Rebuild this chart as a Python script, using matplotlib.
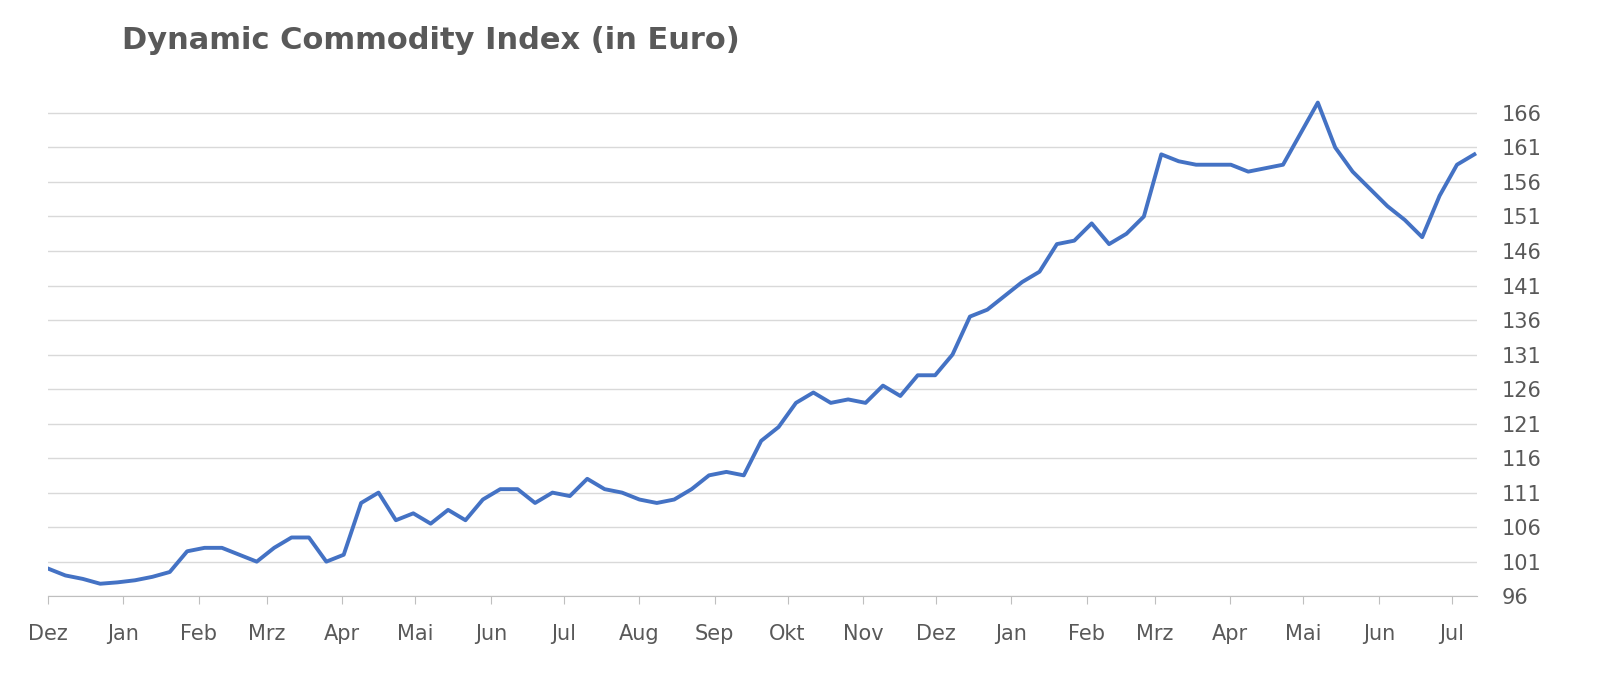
import numpy as np
import pandas as pd
import matplotlib.pyplot as plt

# weekly index values (Dec 2020 - mid Jul 2022)
index_values = [
    100, 99, 98.5, 97.8, 98, 98.3, 98.8, 99.5, 102.5, 103,
    103, 102, 101, 103, 104.5, 104.5, 101, 102, 109.5, 111,
    107, 108, 106.5, 108.5, 107, 110, 111.5, 111.5, 109.5, 111,
    110.5, 113, 111.5, 111, 110, 109.5, 110, 111.5, 113.5, 114,
    113.5, 118.5, 120.5, 124, 125.5, 124, 124.5, 124, 126.5, 125,
    128, 128, 131, 136.5, 137.5, 139.5, 141.5, 143, 147, 147.5,
    150, 147, 148.5, 151, 160, 159, 158.5, 158.5, 158.5, 157.5,
    158, 158.5, 163, 167.5, 161, 157.5, 155, 152.5, 150.5, 148,
    154, 158.5, 160,
]
start = pd.Timestamp("2020-12-01")
dates = start + pd.to_timedelta(np.arange(len(index_values)) * 7.15, unit="D")
month_labels = ["Dez", "Jan", "Feb", "Mrz", "Apr", "Mai", "Jun", "Jul", "Aug", "Sep",
                "Okt", "Nov", "Dez", "Jan", "Feb", "Mrz", "Apr", "Mai", "Jun", "Jul"]
y_ticks = list(range(96, 167, 5))

fig = plt.figure(figsize=(16, 6.79), dpi=100)
ax = fig.add_axes([0.03, 0.122, 0.893, 0.732])

ax.plot(dates, index_values, color="#4472C4", lw=2.8)

ticks = pd.date_range("2020-12-01", periods=len(month_labels), freq="MS")
ax.set_xticks(ticks)
ax.set_xticklabels(month_labels)
ax.set_xlim(start, dates[-1] + pd.Timedelta(days=1))
ax.set_ylim(96, 168)
ax.set_yticks(y_ticks)
ax.yaxis.tick_right()
ax.grid(axis="y", color="#d9d9d9", lw=1)
ax.set_axisbelow(True)
for s in ["top", "left", "right"]:
    ax.spines[s].set_visible(False)
ax.spines["bottom"].set_color("#bfbfbf")
ax.tick_params(axis="y", length=0, labelsize=15, labelcolor="#595959", pad=18)
ax.tick_params(axis="x", length=6, color="#bfbfbf", labelsize=15, labelcolor="#595959", pad=14)

fig.text(0.076, 0.94, "Dynamic Commodity Index (in Euro)", fontsize=22, fontweight="heavy",
         color="#595959", va="center")

fig.savefig("out.png", dpi=100)
